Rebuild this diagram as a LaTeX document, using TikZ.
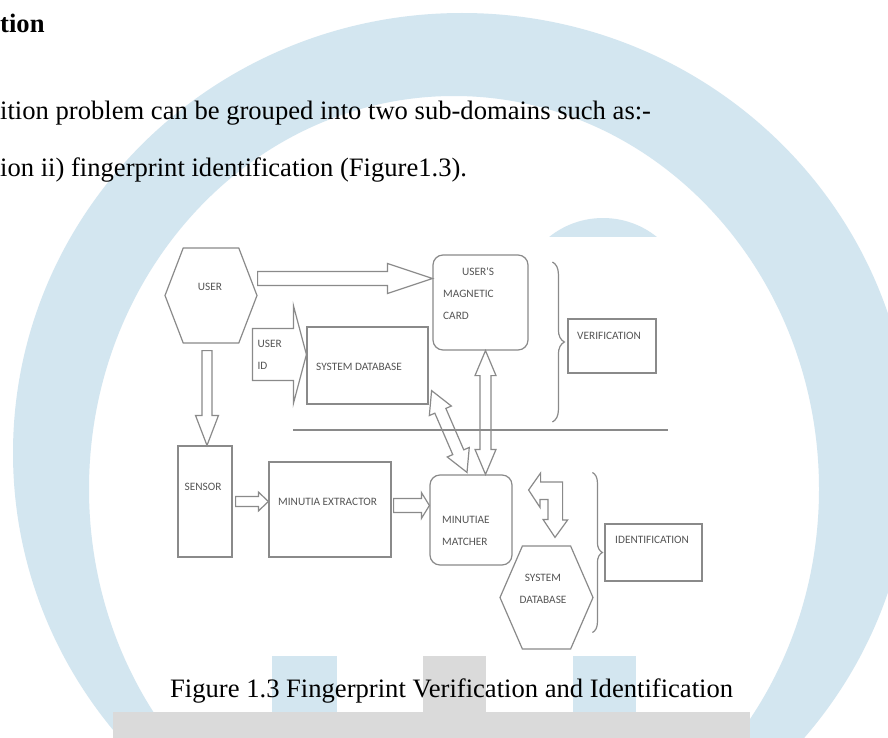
\documentclass[tikz,border=0pt]{standalone}
\usepackage{fontspec}
\setmainfont{Liberation Serif}
\newfontfamily\lblfont{Carlito}
\usetikzlibrary{calc,shapes.symbols,decorations.pathreplacing}
\definecolor{wmblue}{RGB}{211,230,240}
\definecolor{wmgray}{RGB}{218,218,218}
\definecolor{linegray}{RGB}{138,138,138}
\definecolor{labelgray}{RGB}{85,85,85}
% hollow block arrow: tail, tip, shaft half width, head half width, head length
\newcommand\blockarrow[5]{%
  \coordinate (hb) at ($(#2)!#5!(#1)$);
  \draw[arrline] ($(#1)!#3!90:(#2)$) -- ($(hb)!#3!-90:(#1)$) -- ($(hb)!#4!-90:(#1)$) -- (#2)
    -- ($(hb)!#4!90:(#1)$) -- ($(hb)!#3!90:(#1)$) -- ($(#1)!#3!-90:(#2)$) -- cycle;
}
% same, with a head at both ends
\newcommand\blockdarrow[5]{%
  \coordinate (hb1) at ($(#1)!#5!(#2)$);
  \coordinate (hb2) at ($(#2)!#5!(#1)$);
  \draw[arrline] (#1) -- ($(hb1)!#4!90:(#2)$) -- ($(hb1)!#3!90:(#2)$) -- ($(hb2)!#3!-90:(#1)$)
    -- ($(hb2)!#4!-90:(#1)$) -- (#2) -- ($(hb2)!#4!90:(#1)$) -- ($(hb2)!#3!90:(#1)$)
    -- ($(hb1)!#3!-90:(#2)$) -- ($(hb1)!#4!-90:(#2)$) -- cycle;
}
\begin{document}
\begin{tikzpicture}[x=1pt,y=-1pt,
    ln/.style={draw=linegray, line width=1.2pt},
    box/.style={ln, inner sep=0pt},
    rbox/.style={box, rounded corners=10pt},
    hexa/.style={box, signal, signal to=west and east},
    arrline/.style={ln, fill=white},
    lbl/.style={font=\lblfont\fontsize{11.3}{22}\selectfont, text=labelgray, align=left, inner sep=0pt},
    body/.style={font=\fontsize{26.6}{32}\selectfont, inner sep=0pt, anchor=base west}]
  \useasboundingbox (0,0) rectangle (888,738);
  \clip (0,0) rectangle (888,738);
  % watermark behind the page
  \fill[white] (0,0) rectangle (888,738);
  \fill[wmblue, even odd rule] (462,453) ellipse[x radius=449pt, y radius=440pt]
    (454,489) ellipse[x radius=365pt, y radius=393pt];
  \fill[wmblue] (603,304) circle[radius=86pt];
  \fill[white] (510,237) rectangle (700,400);
  \fill[wmblue] (272,656) rectangle (337,712);
  \fill[wmgray] (423,656) rectangle (486,712);
  \fill[wmblue] (573,656) rectangle (636,712);
  \fill[wmgray] (113,712) rectangle (750,738);

  % page text
  \node[body, font=\bfseries\fontsize{26.6}{32}\selectfont] (head) at (0,33) {tion};
  \node[body] (line1) at (0,120) {ition problem can be grouped into two sub-domains such as:-};
  \node[body] (line2) at (0,176) {ion ii) fingerprint identification (Figure1.3).};
  \node[body] (caption) at (170,697) {Figure 1.3 Fingerprint Verification and Identification};

  % blocks
  \node[hexa, signal pointer angle=138, minimum width=92pt, minimum height=95pt] (user) at (211,295.5) {};
  \node[rbox, minimum width=95pt, minimum height=95pt] (card) at (480.5,302.5) {};
  \node[box, minimum width=121pt, minimum height=77pt] (sysdb) at (367.5,365.5) {};
  \node[box, minimum width=54pt, minimum height=111pt] (sensor) at (205,501.5) {};
  \node[box, minimum width=122pt, minimum height=95pt] (extr) at (330,509.5) {};
  \node[rbox, minimum width=82pt, minimum height=90pt] (matcher) at (471,520) {};
  \node[hexa, signal pointer angle=133, minimum width=93pt, minimum height=103pt] (sdb) at (546.5,597.5) {};
  \node[box, minimum width=88pt, minimum height=54pt] (verif) at (612,346) {};
  \node[box, minimum width=97pt, minimum height=57pt] (ident) at (653.5,552.5) {};

  % block labels
  \node[lbl] (usert) at (210,287) {USER};
  \node[lbl, anchor=north west] (cardt) at (443,268) {\hspace*{19pt}USER'S\\MAGNETIC\\CARD};
  \node[lbl, anchor=west] (sysdbt) at (316,367) {SYSTEM DATABASE};
  \node[lbl] (sensort) at (203,487) {SENSOR};
  \node[lbl, anchor=west] (extrt) at (278,502) {MINUTIA EXTRACTOR};
  \node[lbl, anchor=west] (matchert) at (442,531) {MINUTIAE\\MATCHER};
  \node[lbl, align=center] (sdbt) at (543,589) {SYSTEM\\DATABASE};
  \node[lbl, anchor=west] (veriflbl) at (577,336) {VERIFICATION};
  \node[lbl, anchor=west] (identlbl) at (615,540) {IDENTIFICATION};

  % block arrows
  \coordinate (u1) at ($(user.east)+(0,-17)$);
  \coordinate (c1) at (card.west |- u1);
  \blockarrow{u1}{c1}{7pt}{15pt}{45pt}
  \coordinate (u2) at ($(user.south)+(-4,7)$);
  \coordinate (s2) at (u2 |- sensor.north);
  \blockarrow{u2}{s2}{5pt}{11.5pt}{30pt}
  \coordinate (s3) at ($(sensor.east)+(3,0)$);
  \coordinate (e3) at (extr.west |- s3);
  \blockarrow{s3}{e3}{5pt}{9.5pt}{10pt}
  \coordinate (e4) at ($(extr.east)+(2,-4)$);
  \coordinate (m4) at (matcher.west |- e4);
  \blockarrow{e4}{m4}{7pt}{13pt}{8pt}
  \coordinate (c5) at ($(card.south)+(5,0)$);
  \coordinate (m5) at (c5 |- matcher.north);
  \blockdarrow{c5}{m5}{5.5pt}{10.5pt}{25pt}
  \coordinate (d1) at ($(sysdb.south east)+(3,-14)$);
  \coordinate (d2) at ($(matcher.north)+(-4,-2)$);
  \blockdarrow{d1}{d2}{6pt}{12pt}{22pt}
  \coordinate (l1) at ($(matcher.east)+(16,-30)$);
  \coordinate (l2) at ($(sdb.north)+(8.5,-8)$);
  \draw[arrline] (l1) -- ++(12,-17) -- ++(0,9) -- ++(22,0) -- ++(0,38) -- ++(5,0) -- (l2)
    -- ++(-12,-18) -- ++(5,0) -- ++(0,-20) -- ++(-8,0) -- ++(0,8) -- cycle;
  % user id arrow into the database
  \coordinate (uid) at ($(sysdb.west)+(-54,-11)$);
  \coordinate (uidtip) at (sysdb.west |- uid);
  \blockarrow{uid}{uidtip}{26pt}{49pt}{13pt}
  \node[lbl, anchor=west] (uidt) at ($(uid)+(5,0)$) {USER\\ID};

  % divider and braces
  \draw[ln] (293,430) -- (668,430);
  \draw[ln, decorate, decoration={brace, amplitude=12pt}] ($(verif.west)+(-15,-84)$) -- ($(verif.west)+(-15,76)$);
  \draw[ln, decorate, decoration={brace, amplitude=10pt}] ($(ident.west)+(-12,-80)$) -- ($(ident.west)+(-12,80)$);
\end{tikzpicture}
\end{document}
